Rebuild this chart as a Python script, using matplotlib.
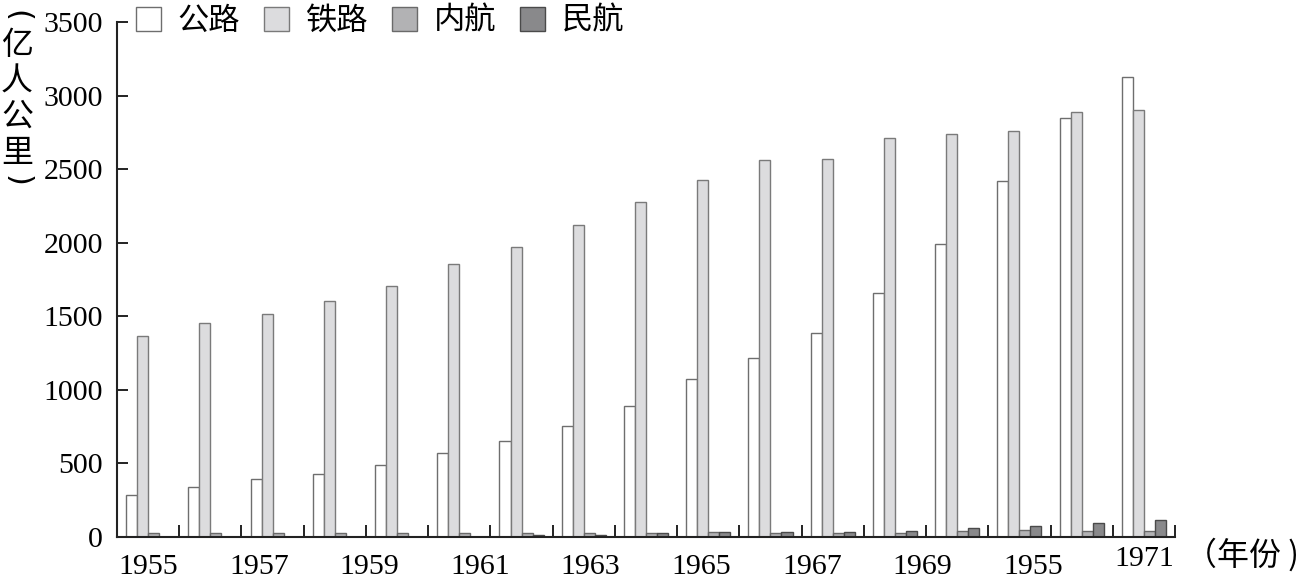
import numpy as np
import matplotlib
matplotlib.use('Agg')
import matplotlib.pyplot as plt
from matplotlib.patches import Patch
from matplotlib.transforms import ScaledTranslation

# passenger turnover, 亿人公里
years = list(range(1955, 1972))
road = [288, 342, 392, 428, 486, 568, 653, 752, 887, 1072, 1214, 1385, 1655, 1991, 2419, 2849, 3124]
rail = [1363, 1457, 1518, 1606, 1707, 1854, 1973, 2119, 2279, 2426, 2559, 2572, 2712, 2741, 2757, 2887, 2899]
river = [29, 29, 27, 29, 29, 25, 25, 29, 29, 34, 27, 29, 27, 41, 45, 38, 41]
air = [0, 0, 0, 0, 0, 0, 14, 16, 29, 34, 34, 34, 43, 61, 74, 95, 113]
series_names = ['公路', '铁路', '内航', '民航']
tick_labels = ['1955', '1957', '1959', '1961', '1963', '1965', '1967', '1969', '1955', '1971']

fills = ['#ffffff', '#dcdcde', '#b2b2b4', '#89898b']
edges = ['#6e6e6e', '#7a7a7a', '#6a6a6a', '#4a4a4a']

CJK = ['Noto Sans CJK SC', 'DejaVu Sans']
SERIF = 'Liberation Serif'

fig = plt.figure(figsize=(13.02, 5.87), dpi=100)
ax = fig.add_axes([117 / 1302, 1 - 537 / 587, 1058 / 1302, 515 / 587])

n = len(years)
idx = np.arange(n)
w = 0.177
for j, vals in enumerate([road, rail, river, air]):
    ax.bar(idx + 0.5 + (j - 1.5) * w, vals, width=w, color=fills[j],
           edgecolor=edges[j], linewidth=1.0, zorder=2)

ax.set_xlim(0, n)
ax.set_ylim(0, 3500)

for s in ['top', 'right']:
    ax.spines[s].set_visible(False)
for s in ['left', 'bottom']:
    ax.spines[s].set_linewidth(1.5)
    ax.spines[s].set_color('#222222')

ax.set_yticks(np.arange(0, 3501, 500))
ax.tick_params(axis='y', direction='in', length=8, width=1.4, color='#222222',
               pad=10, labelsize=21.5)
for lab in ax.get_yticklabels():
    lab.set_fontfamily(SERIF)

# year labels spread evenly between first and last group
ax.set_xticks(np.linspace(0.5, n - 0.5, len(tick_labels)))
ax.set_xticklabels(tick_labels, fontfamily=SERIF, fontsize=21.5)
ax.set_xticks(np.arange(1, n + 1), minor=True)
ax.tick_params(axis='x', which='both', direction='in', color='#222222')
ax.tick_params(axis='x', which='major', length=0, pad=12)
ax.tick_params(axis='x', which='minor', length=8.5, width=1.4)
last = ax.get_xticklabels()[-1]
last.set_transform(last.get_transform() + ScaledTranslation(0, 8 / 100, fig.dpi_scale_trans))

# legend across the top
handles = [Patch(facecolor=fills[j], edgecolor=edges[j], linewidth=1.0) for j in range(4)]
leg = fig.legend(handles, series_names, loc='upper left', bbox_to_anchor=(134 / 1302, 1 - 3 / 587),
                 ncol=4, frameon=False, prop={'family': CJK, 'size': 22.5},
                 handlelength=0.8, handleheight=0.8, handletextpad=0.55,
                 columnspacing=0.75, borderpad=0.05, borderaxespad=0)

# vertical unit label, parentheses turned on their side
ux = 17 / 1302
fig.text(ux, 1 - 16 / 587, '(', family='DejaVu Sans', fontsize=22, rotation=-90,
         ha='center', va='center')
fig.text(ux, 1 - 99 / 587, '\n'.join(['亿', '人', '公', '里']),
         family=CJK, fontsize=23, ha='center', va='center', linespacing=1.15)
fig.text(ux, 1 - 181 / 587, ')', family='DejaVu Sans', fontsize=22, rotation=-90,
         ha='center', va='center')

fig.text(1299 / 1302, 1 - 555 / 587, '（年份 )', family=CJK, fontsize=23,
         ha='right', va='center')

fig.savefig('out.png', dpi=100)
